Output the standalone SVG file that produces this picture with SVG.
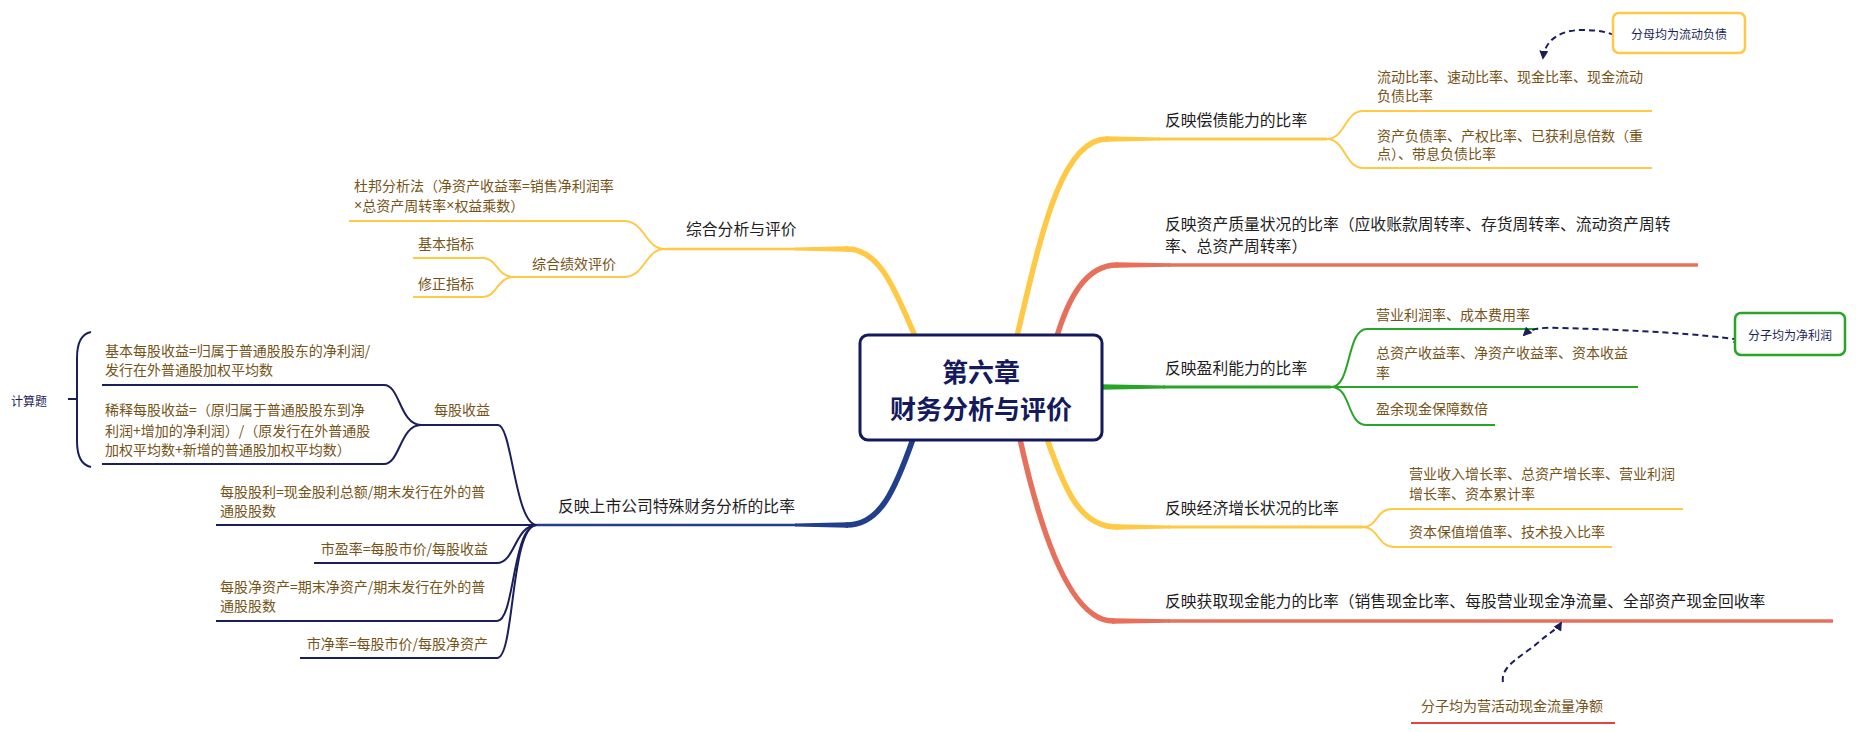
<svg xmlns="http://www.w3.org/2000/svg" width="1856" height="732" viewBox="0 0 1856 732">
<defs>
<marker id="ah" viewBox="0 0 10 10" refX="8" refY="5" markerWidth="9" markerHeight="9" markerUnits="userSpaceOnUse" orient="auto-start-reverse"><path d="M0,0 L10,5 L0,10 z" fill="#1a1f5c"/></marker>
<style>
text{font-family:"Noto Sans CJK SC","Liberation Sans",sans-serif;dominant-baseline:central}
.m{font-size:15.8px;fill:#1e1e1e}
.s{font-size:14px;fill:#765418}
.n{font-size:12px;fill:#1a1f5c}
.t{font-size:26px;font-weight:bold;fill:#141a5c;text-anchor:middle}
.x{font-family:"Liberation Sans",sans-serif}
.y{stroke:#ffc845;fill:none}
.r{stroke:#e6705b;fill:none}
.g{stroke:#27a527;fill:none}
.b{stroke:#213f8c;fill:none}
.nv{stroke:#1a1f5c;fill:none;stroke-width:2}
.sub{stroke-width:2}
.dash{stroke:#1a1f5c;fill:none;stroke-width:2;stroke-dasharray:6 4}
</style>
</defs>
<rect width="1856" height="732" fill="#ffffff"/>
<g id="connectors">
<path class="y" stroke-width="5.5" stroke-linecap="round" d="M1017 336 C1040 240 1060 139 1107 139"/>
<path fill="#ffc845" d="M1106 136.2 L1160 137.6 L1160 140.4 L1106 141.8 Z"/>
<path class="y" stroke-width="2.8" d="M1158 139 H1327"/>
<path class="y sub" d="M1327 139 C1345 139 1345 111 1363 111 H1652"/>
<path class="y sub" d="M1327 139 C1345 139 1345 168 1363 168 H1652"/>
<path class="r" stroke-width="5.5" stroke-linecap="round" d="M1057 336 C1068 300 1085 265 1117 265"/>
<path fill="#e6705b" d="M1116 262.2 L1170 263.3 L1170 266.7 L1116 267.8 Z"/>
<path class="r" stroke-width="3.4" d="M1168 265 H1698"/>
<path fill="#27a527" d="M1101 384.2 L1165 385.6 L1165 388.4 L1101 389.8 Z"/>
<path class="g" stroke-width="2.8" d="M1163 387 H1331"/>
<path class="g sub" d="M1331 387 C1352 387 1346 329 1367 329 H1538"/>
<path class="g sub" d="M1331 387 H1638"/>
<path class="g sub" d="M1331 387 C1352 387 1346 425 1367 425 H1495"/>
<path class="y" stroke-width="5.5" stroke-linecap="round" d="M1047 439 C1065 490 1080 527 1117 527"/>
<path fill="#ffc845" d="M1116 524.2 L1170 525.6 L1170 528.4 L1116 529.8 Z"/>
<path class="y" stroke-width="2.8" d="M1168 527 H1363"/>
<path class="y sub" d="M1363 527 C1378 527 1376 509 1392 509 H1683"/>
<path class="y sub" d="M1363 527 C1378 527 1378 547 1394 547 H1612"/>
<path class="r" stroke-width="5.5" stroke-linecap="round" d="M1020 439 C1040 530 1070 621 1113 621"/>
<path fill="#e6705b" d="M1112 618.2 L1170 619.3 L1170 622.7 L1112 623.8 Z"/>
<path class="r" stroke-width="3.4" d="M1168 621 H1833"/>
<path class="y" stroke-width="5.5" stroke-linecap="round" d="M915 336 C895 290 880 249 847 249"/>
<path fill="#ffc845" d="M848 246.2 L795 247.6 L795 250.4 L848 251.8 Z"/>
<path class="y" stroke-width="2.6" d="M797 249 H665"/>
<path class="y sub" d="M665 249 C645 249 645 221 624 221 H349"/>
<path class="y sub" d="M665 249 C645 249 645 277 624 277 H514"/>
<path class="y sub" d="M514 277 C497 277 497 258 483 258 H413"/>
<path class="y sub" d="M514 277 C497 277 497 297 483 297 H413"/>
<path class="b" stroke-width="5.5" stroke-linecap="round" d="M913 439 C895 490 880 525 847 525"/>
<path fill="#213f8c" d="M848 522.2 L795 523.6 L795 526.4 L848 527.8 Z"/>
<path class="b" stroke-width="2.6" d="M797 525 H537"/>
<path class="nv" d="M537 525 C515 525 512 425 498 425 H421"/>
<path class="nv" d="M537 525 H216"/>
<path class="nv" d="M537 525 C515 525 515 563 497 563 H314"/>
<path class="nv" d="M537 525 C512 525 515 621 497 621 H216"/>
<path class="nv" d="M537 525 C510 525 515 658 497 658 H300"/>
<path class="nv" d="M421 425 C400 425 400 385 384 385 H102"/>
<path class="nv" d="M421 425 C400 425 400 464 384 464 H102"/>
<path class="nv" d="M91 332 C81 334 77 344 77 358 L77 441 C77 455 81 465 91 467"/>
<path class="nv" d="M68 399 H76"/>
<path class="dash" marker-start="url(#ah)" marker-end="url(#ah)" d="M1543 58 C1545 40 1560 30 1582 30 C1600 30 1618 33 1621 42"/>
<path class="dash" marker-start="url(#ah)" marker-end="url(#ah)" d="M1524 335 C1530 329 1540 327 1560 328 C1640 330 1700 334 1741 340"/>
<path class="dash" marker-end="url(#ah)" d="M1503 682 C1500 665 1525 655 1540 641 C1552 631 1558 628 1561 623"/>
<path stroke="#e4443f" stroke-width="2.2" d="M1411 723 H1615"/>
</g>
<g id="root">
<rect x="860" y="335" width="242" height="105" rx="8" fill="#ffffff" stroke="#141a5c" stroke-width="3"/>
<text class="t" x="981" y="370">第六章</text>
<text class="t" x="981" y="407">财务分析与评价</text>
</g>
<g id="n-solvency"><text class="m" x="1165" y="119">反映偿债能力的比率</text></g>
<g id="n-solvency-1"><text class="s" x="1377" y="76">流动比率、速动比率、现金比率、现金流动</text><text class="s" x="1377" y="95">负债比率</text></g>
<g id="n-solvency-2"><text class="s" x="1377" y="135">资产负债率、产权比率、已获利息倍数（重</text><text class="s" x="1377" y="153">点）、带息负债比率</text></g>
<g id="n-note-denominator"><rect x="1613" y="13" width="132" height="40" rx="6" fill="#ffffff" stroke="#ffc845" stroke-width="2.5"/><text class="n" x="1679" y="33" text-anchor="middle">分母均为流动负债</text></g>
<g id="n-quality"><text class="m" x="1165" y="223">反映资产质量状况的比率（应收账款周转率、存货周转率、流动资产周转</text><text class="m" x="1165" y="245">率、总资产周转率）</text></g>
<g id="n-profit"><text class="m" x="1165" y="367">反映盈利能力的比率</text></g>
<g id="n-profit-1"><text class="s" x="1376" y="314">营业利润率、成本费用率</text></g>
<g id="n-profit-2"><text class="s" x="1376" y="352">总资产收益率、净资产收益率、资本收益</text><text class="s" x="1376" y="372">率</text></g>
<g id="n-profit-3"><text class="s" x="1376" y="408">盈余现金保障数倍</text></g>
<g id="n-note-profit"><rect x="1735" y="313" width="110" height="42" rx="6" fill="#ffffff" stroke="#27a527" stroke-width="2.5"/><text class="n" x="1790" y="334" text-anchor="middle">分子均为净利润</text></g>
<g id="n-growth"><text class="m" x="1165" y="507">反映经济增长状况的比率</text></g>
<g id="n-growth-1"><text class="s" x="1409" y="473">营业收入增长率、总资产增长率、营业利润</text><text class="s" x="1409" y="493">增长率、资本累计率</text></g>
<g id="n-growth-2"><text class="s" x="1409" y="531">资本保值增值率、技术投入比率</text></g>
<g id="n-cash"><text class="m" x="1165" y="600">反映获取现金能力的比率（销售现金比率、每股营业现金净流量、全部资产现金回收率</text></g>
<g id="n-note-cash"><text class="s" x="1421" y="705">分子均为营活动现金流量净额</text></g>
<g id="n-comprehensive"><text class="m" x="686" y="228">综合分析与评价</text></g>
<g id="n-dupont"><text class="s" x="354" y="185">杜邦分析法（净资产收益率=销售净利润率</text><text class="s" x="354" y="205"><tspan class="x">×</tspan>总资产周转率<tspan class="x">×</tspan>权益乘数）</text></g>
<g id="n-performance"><text class="s" x="532" y="263">综合绩效评价</text></g>
<g id="n-basic-index"><text class="s" x="418" y="243">基本指标</text></g>
<g id="n-modified-index"><text class="s" x="418" y="283">修正指标</text></g>
<g id="n-listed"><text class="m" x="558" y="505">反映上市公司特殊财务分析的比率</text></g>
<g id="n-eps"><text class="s" x="434" y="409">每股收益</text></g>
<g id="n-eps-basic"><text class="s" x="105" y="350">基本每股收益=归属于普通股股东的净利润/</text><text class="s" x="105" y="369">发行在外普通股加权平均数</text></g>
<g id="n-eps-diluted"><text class="s" x="105" y="409">稀释每股收益=（原归属于普通股股东到净</text><text class="s" x="105" y="430">利润+增加的净利润）/（原发行在外普通股</text><text class="s" x="105" y="449">加权平均数+新增的普通股加权平均数）</text></g>
<g id="n-calc"><text class="n" x="11" y="400">计算题</text></g>
<g id="n-dps"><text class="s" x="220" y="491">每股股利=现金股利总额/期末发行在外的普</text><text class="s" x="220" y="510">通股股数</text></g>
<g id="n-pe"><text class="s" x="488" y="548" text-anchor="end">市盈率=每股市价/每股收益</text></g>
<g id="n-bps"><text class="s" x="220" y="586">每股净资产=期末净资产/期末发行在外的普</text><text class="s" x="220" y="605">通股股数</text></g>
<g id="n-pb"><text class="s" x="488" y="643" text-anchor="end">市净率=每股市价/每股净资产</text></g>
</svg>
